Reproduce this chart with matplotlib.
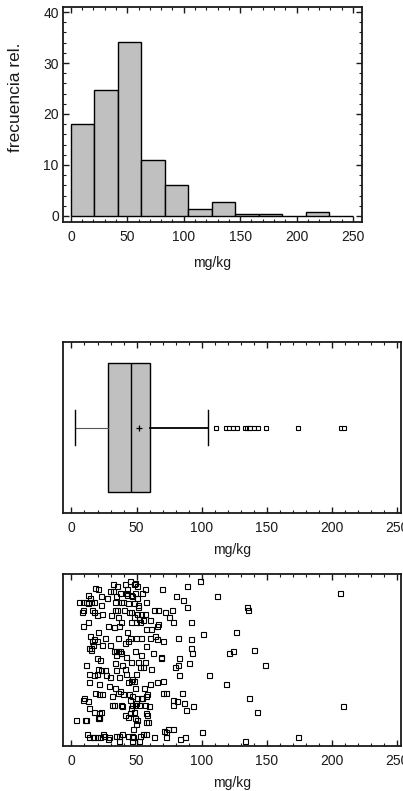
import numpy as np
import matplotlib.pyplot as plt
from matplotlib.ticker import MultipleLocator

plt.rcParams['font.family'] = ['Liberation Sans', 'DejaVu Sans']
plt.rcParams['font.size'] = 10

# histogram (frecuencia relativa, %)
bin_edges = [0, 20.83, 41.67, 62.5, 83.33, 104.17, 125, 145.83, 166.67, 187.5, 208.33, 229.17, 250]
freq = [18.0, 24.8, 34.2, 11.0, 6.1, 1.3, 2.7, 0.4, 0.4, 0.0, 0.7, 0.0]

# box and whisker summary
q1, median, q3 = 28.4, 46.0, 60.2
mean = 51.7
whis_lo, whis_hi = 2.8, 104.9
outliers = [111, 119, 121, 124, 127, 133, 135, 136, 137, 140, 143, 149, 174, 207, 209]

# dispersion plot: value (mg/kg) and vertical jitter
sx = [44.7, 48.6, 31.8, 34.6, 41.1, 47.8, 50.4, 18.3, 98.4, 88.4,
      20.2, 29.7, 31.8, 42.6, 56.6, 69.3, 37.2, 42.1, 46.0, 49.1, 206.5, 54.3,
      12.4, 23.0, 26.9, 34.4, 42.6, 46.8, 50.6, 80.6, 85.3, 111.9, 14.2, 8.8, 5.9, 11.4, 12.9, 15.2, 17.3, 37.7, 39.3, 33.3, 43.4, 47.8, 57.4,
      23.0, 8.5, 16.0, 17.1, 8.3, 33.3, 35.1, 40.1, 43.9, 46.0, 50.9, 51.4, 50.1, 53.2, 56.3, 63.3, 66.7, 72.1, 77.5, 88.9, 134.4, 135.4,
      19.4, 23.5, 30.7, 35.9, 38.0, 47.8, 51.7, 54.8, 60.2, 75.2, 77.8, 66.4, 65.9, 12.7, 8.5, 27.9, 32.8, 36.2, 45.5, 49.6, 52.7, 57.1, 61.0, 92.0,
      20.2, 42.9, 14.0, 25.6, 17.3, 19.4, 16.0, 35.4, 49.9, 44.7, 53.7, 60.5, 63.8, 65.9, 70.5, 81.7, 92.0, 101.3, 126.4, 16.5, 15.0, 23.3, 29.7, 41.3, 43.4, 57.1,
      13.4, 14.7, 32.6, 34.4, 35.4, 37.0, 38.2, 48.8, 41.6, 62.8, 69.0, 69.0, 82.4, 91.5, 92.5, 120.9, 124.3, 139.8, 19.4, 22.2, 33.9, 53.7,
      11.1, 20.4, 33.6, 38.8, 46.0, 50.9, 52.5, 56.8, 54.8, 60.7, 79.8, 81.9, 90.2, 148.8, 22.7, 26.1, 34.4, 41.3, 13.2, 17.6, 19.6, 26.6, 29.5, 36.2, 42.1, 49.4,
      82.9, 105.4, 46.3, 45.5, 47.8, 65.4, 70.3, 60.2, 55.6, 49.1, 13.7, 21.4, 28.7, 33.3, 43.7, 37.2, 118.9,
      17.8, 20.9, 23.8, 9.8, 8.5, 12.9, 31.5, 35.9, 39.8, 43.9, 46.5, 50.1, 54.5, 57.6, 58.1, 70.5, 72.6, 84.8, 78.3, 81.1, 136.4, 44.7,
      31.0, 32.3, 37.7, 46.5, 48.8, 49.6, 51.9, 53.2, 56.3, 59.9, 13.7, 17.3, 21.2, 23.0, 38.5, 45.5, 47.8, 77.8, 86.6, 93.5, 87.6, 142.4, 208.3,
      3.6, 10.1, 11.1, 20.9, 21.4, 20.2, 40.8, 43.2, 45.2, 48.8, 57.1, 58.1, 57.4, 58.7, 49.4, 50.6, 47.3, 71.1, 72.4, 74.2, 78.0, 100.0,
      11.6, 13.7, 16.3, 16.5, 19.4, 24.5, 25.3, 28.2, 29.2, 34.1, 36.7, 36.4, 38.5, 43.2, 46.5, 46.8, 47.0, 51.7, 52.5, 55.0, 57.6, 63.3, 72.4, 83.5, 87.1, 133.1, 174.2, 22.2]
sy = [0.96, 0.95, 0.94, 0.93, 0.94, 0.94, 0.93, 0.92, 0.96, 0.93,
      0.91, 0.90, 0.90, 0.91, 0.91, 0.91, 0.89, 0.89, 0.88, 0.89, 0.89, 0.89,
      0.88, 0.87, 0.86, 0.87, 0.88, 0.87, 0.86, 0.87, 0.85, 0.87, 0.86, 0.84, 0.84, 0.84, 0.83, 0.84, 0.84, 0.84, 0.84, 0.84, 0.83, 0.83, 0.84,
      0.82, 0.79, 0.79, 0.78, 0.78, 0.79, 0.79, 0.79, 0.78, 0.78, 0.82, 0.81, 0.77, 0.77, 0.77, 0.79, 0.79, 0.78, 0.79, 0.81, 0.81, 0.79,
      0.76, 0.77, 0.76, 0.75, 0.72, 0.75, 0.74, 0.73, 0.73, 0.75, 0.72, 0.71, 0.70, 0.72, 0.70, 0.70, 0.69, 0.70, 0.72, 0.72, 0.72, 0.68, 0.68, 0.72,
      0.66, 0.66, 0.64, 0.63, 0.62, 0.61, 0.61, 0.63, 0.63, 0.63, 0.63, 0.63, 0.64, 0.62, 0.61, 0.63, 0.62, 0.65, 0.66, 0.59, 0.57, 0.59, 0.59, 0.60, 0.61, 0.58,
      0.57, 0.56, 0.55, 0.55, 0.55, 0.55, 0.54, 0.55, 0.52, 0.54, 0.52, 0.51, 0.51, 0.57, 0.54, 0.54, 0.55, 0.56, 0.51, 0.50, 0.53, 0.53,
      0.47, 0.45, 0.48, 0.47, 0.49, 0.49, 0.46, 0.49, 0.46, 0.45, 0.46, 0.47, 0.48, 0.47, 0.44, 0.44, 0.44, 0.45, 0.42, 0.41, 0.42, 0.41, 0.40, 0.40, 0.42, 0.42,
      0.41, 0.41, 0.39, 0.38, 0.38, 0.37, 0.38, 0.36, 0.34, 0.34, 0.37, 0.36, 0.35, 0.34, 0.37, 0.32, 0.36,
      0.31, 0.30, 0.30, 0.28, 0.27, 0.26, 0.29, 0.31, 0.30, 0.30, 0.29, 0.28, 0.28, 0.29, 0.30, 0.31, 0.31, 0.31, 0.27, 0.26, 0.28, 0.27,
      0.24, 0.24, 0.24, 0.24, 0.24, 0.25, 0.24, 0.28, 0.24, 0.23, 0.22, 0.20, 0.19, 0.20, 0.23, 0.22, 0.20, 0.24, 0.25, 0.23, 0.21, 0.20, 0.23,
      0.15, 0.15, 0.15, 0.16, 0.17, 0.16, 0.18, 0.17, 0.19, 0.16, 0.19, 0.18, 0.14, 0.14, 0.13, 0.15, 0.10, 0.09, 0.08, 0.10, 0.10, 0.08,
      0.07, 0.05, 0.05, 0.05, 0.05, 0.07, 0.06, 0.04, 0.05, 0.06, 0.06, 0.03, 0.07, 0.06, 0.06, 0.03, 0.05, 0.03, 0.06, 0.07, 0.07, 0.05, 0.05, 0.04, 0.05, 0.03, 0.05, 0.05]

grey = '#c0c0c0'
ink = '#1a1a1a'


def style(ax):
    ax.tick_params(which='both', direction='in', top=True, right=True, colors=ink)
    ax.tick_params(which='major', length=4, width=1, pad=5.5, labelsize=10)
    ax.tick_params(which='minor', length=2, width=0.8)
    for s in ax.spines.values():
        s.set_linewidth(1.3)
        s.set_color(ink)


fig = plt.figure(figsize=(4.03, 7.91), dpi=100)

# histogram
ax1 = fig.add_axes([63 / 403, 1 - 222 / 791, 299 / 403, 215 / 791])
widths = np.diff(bin_edges)
ax1.bar(bin_edges[:-1], freq, width=widths, align='edge', color=grey,
        edgecolor='black', linewidth=1)
ax1.set_xlim(-7, 258)
ax1.set_ylim(-1.2, 41)
ax1.xaxis.set_major_locator(MultipleLocator(50))
ax1.xaxis.set_minor_locator(MultipleLocator(10))
ax1.yaxis.set_major_locator(MultipleLocator(10))
ax1.yaxis.set_minor_locator(MultipleLocator(2))
style(ax1)
ax1.tick_params(axis='y', which='major', pad=3)
ax1.set_xlabel('mg/kg', labelpad=9, color=ink, fontsize=10)
ax1.set_ylabel('frecuencia rel.', color=ink, fontsize=12.5, va='center')
ax1.yaxis.set_label_coords(-0.16, 0.58)

# box and whisker
ax2 = fig.add_axes([63 / 403, 1 - 513 / 791, 338 / 403, 171 / 791])
stats = [dict(med=median, q1=q1, q3=q3, whislo=whis_lo, whishi=whis_hi,
              mean=mean, fliers=outliers)]
bp = ax2.bxp(stats, positions=[1], widths=1.52, capwidths=0.4,
             orientation='horizontal', patch_artist=True, showmeans=True,
             boxprops=dict(facecolor=grey, edgecolor='black', linewidth=1),
             medianprops=dict(color='black', linewidth=1),
             whiskerprops=dict(color='black', linewidth=1),
             capprops=dict(color='black', linewidth=1),
             meanprops=dict(marker='+', markeredgecolor='black', markersize=4, markeredgewidth=0.9),
             flierprops=dict(marker='s', markerfacecolor='white', markeredgecolor='black',
                             markersize=3, markeredgewidth=0.8))
bp['whiskers'][0].set_color('#555555')
bp['whiskers'][0].set_linewidth(0.8)
bp['whiskers'][1].set_linewidth(1.3)
ax2.set_ylim(0, 2)
ax2.set_xlim(-6.5, 253)
ax2.set_yticks([])
ax2.xaxis.set_major_locator(MultipleLocator(50))
ax2.xaxis.set_minor_locator(MultipleLocator(10))
style(ax2)
ax2.set_xlabel('mg/kg', labelpad=6, color=ink, fontsize=10)

# dispersion
ax3 = fig.add_axes([63 / 403, 1 - 746 / 791, 338 / 403, 172 / 791])
ax3.plot(sx, sy, 's', markerfacecolor='none', markeredgecolor='black',
         markersize=3.6, markeredgewidth=0.8)
ax3.set_ylim(0, 1)
ax3.set_xlim(-6.5, 253)
ax3.set_yticks([])
ax3.xaxis.set_major_locator(MultipleLocator(50))
ax3.xaxis.set_minor_locator(MultipleLocator(10))
style(ax3)
ax3.set_xlabel('mg/kg', labelpad=6, color=ink, fontsize=10)

fig.savefig('out.png', dpi=100)
